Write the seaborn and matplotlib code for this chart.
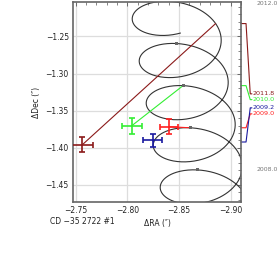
import numpy as np
import pandas as pd
import matplotlib
matplotlib.use("Agg")
import matplotlib.pyplot as plt
import matplotlib.transforms as mtransforms
from matplotlib.ticker import MultipleLocator, AutoMinorLocator, FuncFormatter
import seaborn as sns

# measured offsets of the companion (arcsec)
epochs = [2009.0, 2009.2, 2010.0, 2011.8]
epoch_labels = ["2009.0", "2009.2", "2010.0", "2011.8"]
colors = ["#ff2020", "#1a1aa0", "#33ee33", "#8b1a1a"]
d_ra = [-2.8403, -2.8246, -2.8043, -2.7565]
d_ra_err = [0.0088, 0.0094, 0.0097, 0.0102]
d_dec = [-1.3716, -1.3901, -1.3703, -1.3959]
d_dec_err = [0.0099, 0.0090, 0.0105, 0.0104]

# expected track of a stationary background object
track_epoch0 = 2008.0
track_ra0 = -2.8747
track_dec0 = -1.4653
track_mu_ra = 0.00677
track_mu_dec = 0.05676
track_par_ra = 0.04134
track_par_dec = 0.03608
track_phase = 0.175
track_start, track_end = 2007.5, 2012.5
year_marks = [2008.0, 2009.0, 2010.0, 2011.0]
range_labels = [2008.0, 2012.0]


def track(t):
    t = np.asarray(t, dtype=float) - track_epoch0
    ang = 2 * np.pi * t + track_phase
    ra = track_ra0 + track_mu_ra * t + track_par_ra * np.sin(ang)
    dec = track_dec0 + track_mu_dec * t + track_par_dec * np.cos(ang)
    return ra, dec


sns.set_style("white")
plt.rcParams["font.family"] = ["DejaVu Sans"]

fig = plt.figure(figsize=(2.77, 2.69), dpi=100)
ax = fig.add_axes([73 / 277, 1 - 202 / 269, 168 / 277, 200 / 269])

tt = np.linspace(track_start, track_end, 1200)
tra, tdec = track(tt)
df_track = pd.DataFrame({"ra": tra, "dec": tdec, "t": tt})
sns.lineplot(data=df_track, x="ra", y="dec", sort=False, estimator=None,
             color="#333333", lw=0.8, ax=ax)

mra, mdec = track(year_marks)
sns.scatterplot(x=mra, y=mdec, marker="s", s=5, color="#666666",
                edgecolor="none", ax=ax, zorder=3)

pra, pdec = track(epochs)
for i in range(len(epochs)):
    ax.plot([d_ra[i], pra[i]], [d_dec[i], pdec[i]], color=colors[i], lw=0.8, zorder=2)
    ax.errorbar(d_ra[i], d_dec[i], xerr=d_ra_err[i], yerr=d_dec_err[i],
                color=colors[i], lw=1.2, capsize=2.2, capthick=1.2, zorder=4)

ax.set_xlim(-2.7475, -2.91)
ax.set_ylim(-1.473, -1.2036)
ax.xaxis.set_major_locator(MultipleLocator(0.05))
ax.yaxis.set_major_locator(MultipleLocator(0.05))
ax.xaxis.set_minor_locator(AutoMinorLocator(5))
ax.yaxis.set_minor_locator(AutoMinorLocator(5))
fmt = FuncFormatter(lambda v, p: ("%.2f" % v).replace("-", "\u2212"))
ax.xaxis.set_major_formatter(fmt)
ax.yaxis.set_major_formatter(fmt)
ax.grid(True, which="major", color="#dddddd", lw=0.9)
ax.set_axisbelow(True)
ax.tick_params(which="both", direction="in", top=True, right=True,
               color="#555555", labelsize=5.5, labelcolor="#222222", pad=3)
ax.tick_params(which="major", length=3, width=0.6)
ax.tick_params(which="minor", length=2, width=0.5)
for s in ax.spines.values():
    s.set_color("#666666")
    s.set_linewidth(1.2)

ax.set_xlabel("\u0394RA (\u2033)", fontsize=5.5, color="#222222", labelpad=3)
ax.set_ylabel("\u0394Dec (\u2033)", fontsize=5.5, color="#222222", labelpad=3)
fig.text(50 / 277, 1 - 222 / 269, "CD \u221235 2722 #1", fontsize=5.5,
         color="#222222", ha="left", va="center")

# epoch connectors on the right side
trans = mtransforms.blended_transform_factory(ax.transAxes, ax.transData)
label_y = [-1.3543, -1.3462, -1.3351, -1.3273]
for i in range(len(epochs)):
    ax.plot([1.0, 1.03, 1.055, 1.065], [pdec[i], pdec[i], label_y[i], label_y[i]],
            color=colors[i], lw=0.8, transform=trans, clip_on=False)
    ax.text(1.068, label_y[i], epoch_labels[i], color=colors[i], fontsize=4.6,
            transform=trans, ha="left", va="center")

rra, rdec = track(range_labels)
for t, yv in zip(range_labels, rdec):
    va = "top" if yv > ax.get_ylim()[1] - 0.01 else "center"
    ax.text(1.095, min(yv, -1.2015) if va == "top" else yv, "%.1f" % t,
            color="#777777", fontsize=4.4, transform=trans, ha="left", va=va)

fig.savefig("out.png", dpi=100)
